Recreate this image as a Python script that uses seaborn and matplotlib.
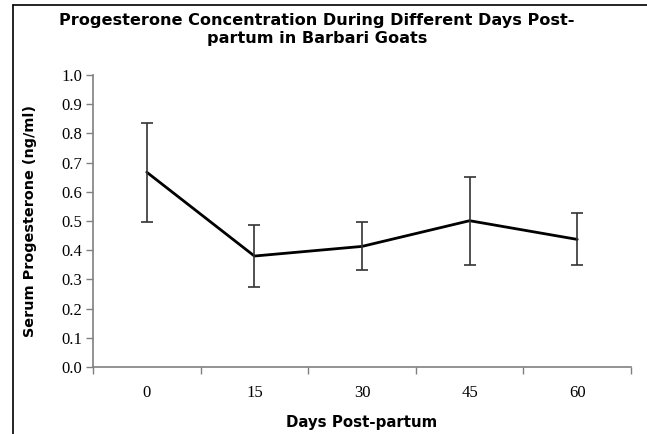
import matplotlib
matplotlib.use("Agg")
import matplotlib.pyplot as plt
import seaborn as sns
import pandas as pd
import numpy as np
from matplotlib.lines import Line2D
from matplotlib.ticker import FixedLocator, MultipleLocator

days = ["0", "15", "30", "45", "60"]
means = [0.667, 0.380, 0.413, 0.501, 0.437]
errors = [0.170, 0.105, 0.082, 0.150, 0.089]

sns.set_theme(style="white")
plt.rcParams['font.family'] = ['DejaVu Sans']
plt.rcParams['text.color'] = 'black'
plt.rcParams['axes.labelcolor'] = 'black'

W, H = 647, 434
fig = plt.figure(figsize=(W/100, H/100), dpi=100)
ax_h = 367 - 75
ax = fig.add_axes([93/W, 1-367/H, (631-93)/W, ax_h/H])

df = pd.DataFrame({"day": days, "mean": means})
sns.lineplot(data=df, x="day", y="mean", ax=ax, color="black", linewidth=2, sort=False)
ax.errorbar(days, means, yerr=errors, fmt="none", ecolor="#333333",
            elinewidth=1.2, capsize=4, capthick=1.2)

ax.set_xlim(-0.5, 4.5)
ax.set_ylim(0, 1.0)
ax.yaxis.set_major_locator(MultipleLocator(0.1))
ax.set_yticklabels([f"{v:.1f}" for v in ax.get_yticks()])
ax.xaxis.set_minor_locator(FixedLocator(np.arange(-0.5, 5, 1)))
ax.tick_params(axis="x", which="major", length=0, pad=13)
ax.tick_params(axis="x", which="minor", length=5, color="#808080", width=1, direction="out", bottom=True)
ax.tick_params(axis="y", length=5, color="#808080", width=1, direction="out", left=True, pad=3)

for lab in ax.get_xticklabels() + ax.get_yticklabels():
    lab.set_fontfamily("Liberation Serif")
    lab.set_fontsize(12)
    lab.set_color("black")

for s in ["top", "right"]:
    ax.spines[s].set_visible(False)
for s in ["left", "bottom"]:
    ax.spines[s].set_color("#808080")
    ax.spines[s].set_linewidth(1.2)

ax.set_xlabel("Days Post-partum", fontweight="bold", fontsize=10.8)
ax.set_ylabel("Serum Progesterone (ng/ml)", fontweight="bold", fontsize=10.4)
ax.xaxis.set_label_coords(0.5, -(415-367)/ax_h)
ax.yaxis.set_label_coords(-(93-37)/(631-93), 0.5)

fig.text(317/W, 1-30/H, "Progesterone Concentration During Different Days Post-\npartum in Barbari Goats",
         ha="center", va="center", fontweight="bold", fontsize=11.6, linespacing=1.25, color="black")

fig.add_artist(Line2D([13/W, 13/W], [0, 1-5/H], color="black", linewidth=1.2, transform=fig.transFigure))
fig.add_artist(Line2D([13/W, 1], [1-5/H, 1-5/H], color="black", linewidth=1.2, transform=fig.transFigure))

fig.savefig("out.png", dpi=100)
